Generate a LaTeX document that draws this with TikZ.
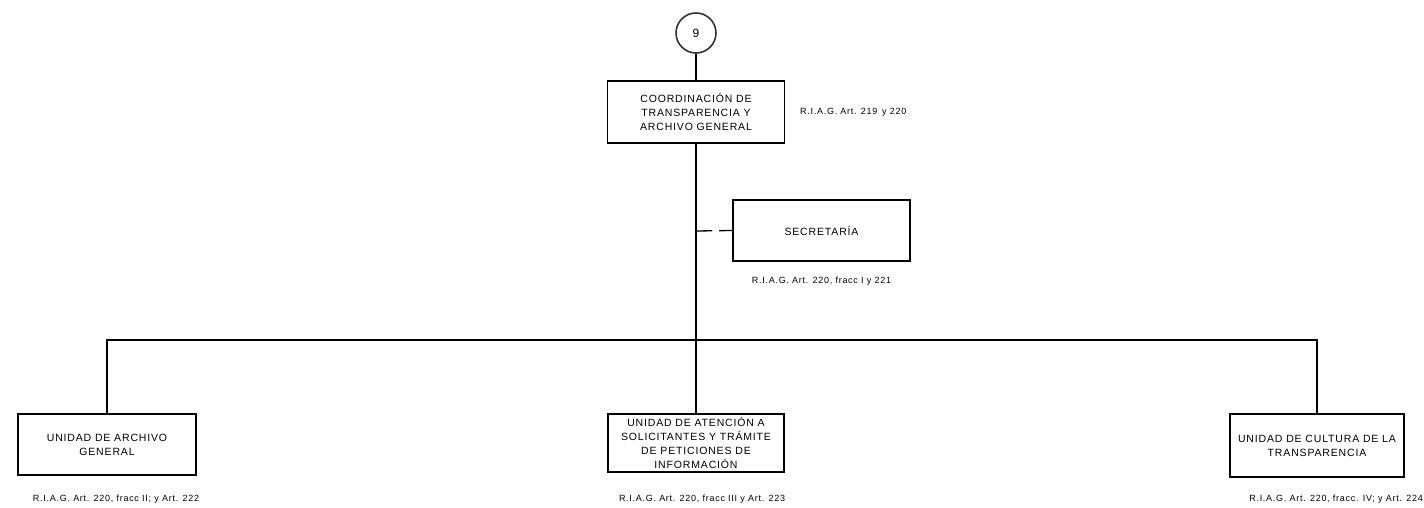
\documentclass[tikz,border=0pt]{standalone}
\usepackage{fontspec}
\setmainfont{Liberation Sans}
\newfontfamily\spacedfont[LetterSpace=8]{Liberation Sans}
\begin{document}
\begin{tikzpicture}[x=1pt,y=-1pt,
  box/.style={draw, line width=1.6pt, align=center, inner sep=0pt,
    font=\spacedfont\fontsize{10.5}{14}\selectfont},
  lbl/.style={inner sep=0pt, font=\spacedfont\fontsize{9}{10}\selectfont},
  conn/.style={line width=1.3pt}]
\useasboundingbox (0,0) rectangle (1424,508);
\node[draw=black!80, circle, line width=1.6pt, minimum size=40pt, inner sep=0pt,
  font=\fontsize{12}{14}\selectfont] (c9) at (696,33) {9};
\node[box, minimum width=177pt, minimum height=62pt] (coord) at (696,112)
  {COORDINACIÓN DE\\TRANSPARENCIA Y\\ARCHIVO GENERAL};
\node[lbl, anchor=west] (l0) at (800,112) {R.I.A.G. Art. 219\, y 220};
\node[box, minimum width=177pt, minimum height=61pt] (sec) at (821.5,230.5) {SECRETARÍA};
\node[lbl] (l1) at (821.5,281) {R.I.A.G. Art. 220, fracc I y 221};
\node[box, minimum width=178pt, minimum height=61pt] (a1) at (107,444.5)
  {UNIDAD DE ARCHIVO\\GENERAL};
\node[box, minimum width=176pt, minimum height=58pt] (a2) at (696,443)
  {UNIDAD DE ATENCIÓN A\\SOLICITANTES Y TRÁMITE\\DE PETICIONES DE\\INFORMACIÓN};
\node[box, minimum width=174pt, minimum height=63pt] (a3) at (1317,445.5)
  {UNIDAD DE CULTURA DE LA\\TRANSPARENCIA};
\node[lbl] (l2) at (116,499) {R.I.A.G. Art. 220, fracc II; y Art. 222};
\node[lbl] (l3) at (702,499) {R.I.A.G. Art. 220, fracc III y Art. 223};
\node[lbl, anchor=east] (l4) at (1423,499) {R.I.A.G. Art. 220, fracc. IV; y Art. 224};
\coordinate (bus) at (696,340);
\coordinate (tap) at (696,231);
\draw[conn] (c9.south) -- (coord.north);
\draw[conn] (coord.south) -- (bus);
\draw[conn] (a1.north) |- (bus) -| (a3.north);
\draw[conn] (bus) -- (a2.north);
\draw[conn, dash pattern=on 16pt off 7pt on 30pt off 1pt] (tap) -- (sec.west);
\end{tikzpicture}
\end{document}
